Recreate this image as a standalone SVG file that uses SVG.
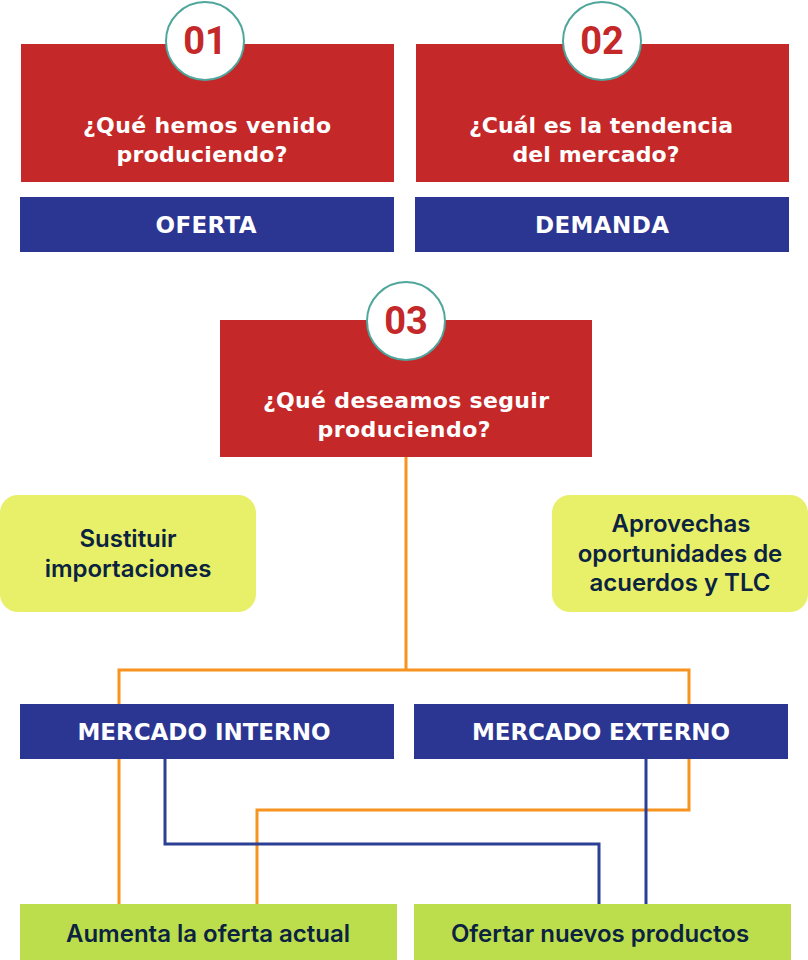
<svg xmlns="http://www.w3.org/2000/svg" width="808" height="960" viewBox="0 0 808 960">
<style>
.red{fill:#c42828}
.blue{fill:#2b3592}
.yel{fill:#e8ef68}
.grn{fill:#bcdd4c}
.q{font-family:"DejaVu Sans","Open Sans",sans-serif;font-weight:700;font-size:22px;fill:#ffffff;text-anchor:middle}
.lab{font-family:"DejaVu Sans","Open Sans",sans-serif;font-weight:700;font-size:23px;fill:#ffffff;text-anchor:middle}
.num{font-family:Roboto,"Liberation Sans",sans-serif;font-weight:700;font-size:38px;fill:#c42828;text-anchor:middle}
.dk{font-family:Inter,"Liberation Sans",sans-serif;font-weight:600;font-size:24px;fill:#0b2341;text-anchor:middle}
.ring{fill:#ffffff;stroke:#4ea69c;stroke-width:2}
.ol{fill:none;stroke:#f7931e;stroke-width:3}
.bl{fill:none;stroke:#2b3f94;stroke-width:3}
</style>
<g id="connectors">
<path class="ol" d="M406 457 V670 M119 704 V670 H689 V704"/>
<path class="ol" d="M119 759 V904"/>
<path class="ol" d="M689 759 V810 H257 V904"/>
<path class="bl" d="M165 759 V844 H599 V904"/>
<path class="bl" d="M646 759 V904"/>
</g>
<g id="node-01">
<rect class="red" x="21" y="44" width="373" height="138"/>
<circle class="ring" cx="205" cy="41" r="39"/>
<text class="num" x="205" y="54">01</text>
<text class="q" x="207" y="133" textLength="248">¿Qué hemos venido</text>
<text class="q" x="202" y="162" textLength="171">produciendo?</text>
</g>
<g id="node-oferta">
<rect class="blue" x="20" y="197" width="374" height="55"/>
<text class="lab" x="206" y="233" textLength="101">OFERTA</text>
</g>
<g id="node-02">
<rect class="red" x="416" y="44" width="373" height="138"/>
<circle class="ring" cx="602" cy="41" r="39"/>
<text class="num" x="602" y="54">02</text>
<text class="q" x="601" y="133" textLength="264">¿Cuál es la tendencia</text>
<text class="q" x="596" y="162" textLength="167">del mercado?</text>
</g>
<g id="node-demanda">
<rect class="blue" x="415" y="197" width="374" height="55"/>
<text class="lab" x="602" y="233" textLength="134">DEMANDA</text>
</g>
<g id="node-03">
<rect class="red" x="220" y="320" width="372" height="137"/>
<circle class="ring" cx="406" cy="321" r="39"/>
<text class="num" x="406" y="334">03</text>
<text class="q" x="406" y="408" textLength="286">¿Qué deseamos seguir</text>
<text class="q" x="404" y="437" textLength="173">produciendo?</text>
</g>
<g id="node-sustituir">
<rect class="yel" x="0" y="495" width="256" height="117" rx="18"/>
<text class="dk" x="128" y="547">Sustituir</text>
<text class="dk" x="128" y="577">importaciones</text>
</g>
<g id="node-aprovechas">
<rect class="yel" x="552" y="495" width="256" height="117" rx="18"/>
<text class="dk" x="681" y="532">Aprovechas</text>
<text class="dk" x="680" y="562">oportunidades de</text>
<text class="dk" x="680" y="591">acuerdos y TLC</text>
</g>
<g id="node-interno">
<rect class="blue" x="20" y="704" width="374" height="55"/>
<text class="lab" x="204" y="740" textLength="253">MERCADO INTERNO</text>
</g>
<g id="node-externo">
<rect class="blue" x="414" y="704" width="374" height="55"/>
<text class="lab" x="601" y="740" textLength="258">MERCADO EXTERNO</text>
</g>
<g id="node-aumenta">
<rect class="grn" x="20" y="904" width="377" height="56"/>
<text class="dk" x="208" y="942">Aumenta la oferta actual</text>
</g>
<g id="node-ofertar">
<rect class="grn" x="414" y="904" width="377" height="56"/>
<text class="dk" x="600" y="942">Ofertar nuevos productos</text>
</g>
</svg>
